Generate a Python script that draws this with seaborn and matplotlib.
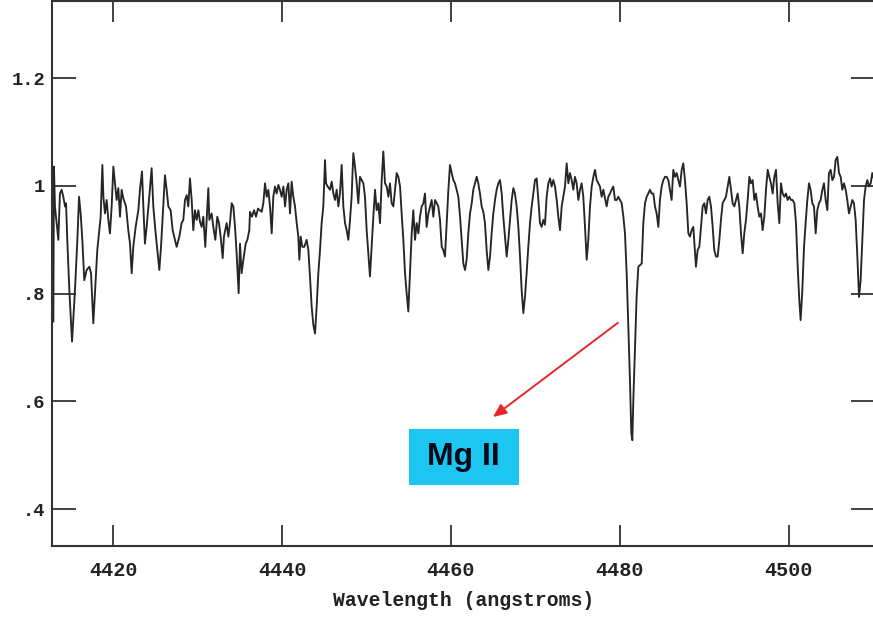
import matplotlib
matplotlib.use("Agg")
import matplotlib.pyplot as plt
import seaborn as sns
import pandas as pd

wavelength = [
    4412.94, 4413.01, 4413.13, 4413.33, 4413.53, 4413.72, 4413.92, 4414.12, 4414.32, 4414.44,
    4414.59, 4414.83, 4415.15, 4415.50, 4415.78, 4415.98, 4416.17, 4416.37, 4416.60, 4416.88,
    4417.20, 4417.40, 4417.67, 4417.95, 4418.14, 4418.38, 4418.54, 4418.74, 4418.86, 4419.05,
    4419.25, 4419.45, 4419.64, 4419.84, 4420.04, 4420.24, 4420.43, 4420.63, 4420.83, 4421.02,
    4421.22, 4421.54, 4421.81, 4422.01, 4422.21, 4422.40, 4422.68, 4423.00, 4423.19, 4423.43,
    4423.59, 4423.78, 4423.98, 4424.26, 4424.57, 4424.77, 4425.01, 4425.24, 4425.48, 4425.68,
    4425.95, 4426.15, 4426.35, 4426.55, 4426.82, 4427.06, 4427.33, 4427.53, 4427.85, 4428.12,
    4428.32, 4428.52, 4428.72, 4428.91, 4429.11, 4429.31, 4429.50, 4429.70, 4429.90, 4430.10,
    4430.29, 4430.49, 4430.69, 4430.92, 4431.08, 4431.28, 4431.40, 4431.67, 4431.87, 4432.11,
    4432.34, 4432.54, 4432.74, 4432.98, 4433.13, 4433.45, 4433.65, 4433.84, 4434.04, 4434.24,
    4434.44, 4434.63, 4434.87, 4435.03, 4435.22, 4435.42, 4435.70, 4435.90, 4436.13, 4436.21,
    4436.45, 4436.69, 4436.92, 4437.16,
    4437.59, 4437.79, 4437.99, 4438.19, 4438.38, 4438.58, 4438.78, 4438.97, 4439.17, 4439.37,
    4439.57, 4439.76, 4439.96, 4440.16, 4440.36, 4440.55, 4440.75, 4440.95, 4441.14, 4441.34,
    4441.54, 4441.74, 4441.93, 4442.05, 4442.21, 4442.41, 4442.64, 4442.92, 4443.12, 4443.31,
    4443.51, 4443.71, 4443.91, 4444.10, 4444.30, 4444.50, 4444.69, 4444.89, 4445.09, 4445.21,
    4445.41, 4445.68, 4445.88, 4446.08, 4446.27, 4446.47, 4446.67, 4446.86, 4447.06, 4447.26,
    4447.46, 4447.65, 4447.85, 4448.05, 4448.24, 4448.44, 4448.64, 4448.84, 4449.03, 4449.23,
    4449.43, 4449.63, 4449.82, 4450.02, 4450.22, 4450.41, 4450.61, 4450.81, 4451.01, 4451.20,
    4451.40, 4451.60, 4451.80, 4451.99, 4452.19, 4452.39, 4452.59, 4452.78, 4452.98, 4453.18,
    4453.37, 4453.57, 4453.77, 4453.97, 4454.16, 4454.36, 4454.56, 4454.75, 4454.95, 4455.15,
    4455.35, 4455.54, 4455.74, 4455.94, 4456.14, 4456.33, 4456.53, 4456.73, 4456.92, 4457.12,
    4457.32, 4457.52, 4457.71, 4457.91, 4458.11, 4458.31, 4458.50, 4458.70, 4458.90, 4459.09,
    4459.29, 4459.49, 4459.69, 4459.88, 4460.08, 4460.28, 4460.47, 4460.67, 4460.87, 4461.07,
    4461.26, 4461.46, 4461.66,
    4461.85, 4462.05, 4462.25, 4462.45, 4462.64, 4462.84, 4463.04, 4463.23, 4463.43, 4463.63,
    4463.83, 4464.02, 4464.22, 4464.42, 4464.62, 4464.81, 4465.01, 4465.21, 4465.40, 4465.60,
    4465.80, 4466.00, 4466.19, 4466.39, 4466.59, 4466.79, 4466.98, 4467.18, 4467.38, 4467.57,
    4467.77, 4467.97, 4468.17, 4468.36, 4468.56, 4468.76, 4468.95, 4469.15, 4469.35, 4469.55,
    4469.74, 4469.94, 4470.14, 4470.34, 4470.53, 4470.73, 4470.93, 4471.12, 4471.32, 4471.52,
    4471.72, 4471.91, 4472.11, 4472.31, 4472.51, 4472.70, 4472.90, 4473.10, 4473.29, 4473.49,
    4473.69, 4473.89, 4474.08, 4474.28, 4474.48, 4474.67, 4474.87, 4475.07, 4475.27, 4475.46,
    4475.66, 4475.86, 4476.06, 4476.25, 4476.45, 4476.65, 4476.85, 4477.04, 4477.24, 4477.44,
    4477.63, 4477.83, 4478.03, 4478.23, 4478.42, 4478.62, 4478.82, 4479.01, 4479.21, 4479.41,
    4479.61, 4479.80, 4480.00, 4480.20, 4480.40, 4480.59, 4480.79, 4480.99, 4481.18, 4481.34,
    4481.46, 4481.58, 4481.78, 4481.97, 4482.17, 4482.37, 4482.57, 4482.76, 4482.96, 4483.16,
    4483.35, 4483.55, 4483.75, 4483.95, 4484.14, 4484.34, 4484.54, 4484.73, 4484.93, 4485.13,
    4485.33, 4485.52, 4485.72,
    4486.11, 4486.31, 4486.51, 4486.71, 4486.90, 4487.10, 4487.30, 4487.49, 4487.69, 4487.89,
    4488.09, 4488.28, 4488.48, 4488.68, 4488.88, 4488.99, 4489.19, 4489.39, 4489.59, 4489.78,
    4489.98, 4490.18, 4490.37, 4490.57, 4490.77, 4490.97, 4491.16, 4491.36, 4491.56, 4491.76,
    4491.95, 4492.15, 4492.35, 4492.54, 4492.74, 4492.94, 4493.14, 4493.33, 4493.53, 4493.73,
    4493.93, 4494.12, 4494.32, 4494.52, 4494.71, 4494.91, 4495.11, 4495.31, 4495.50, 4495.70,
    4495.90, 4496.09, 4496.29, 4496.49, 4496.69, 4496.88, 4497.08, 4497.28, 4497.48, 4497.67,
    4497.87, 4498.07, 4498.26, 4498.46, 4498.66, 4498.86, 4499.05, 4499.25, 4499.45, 4499.65,
    4499.84, 4500.04, 4500.24, 4500.43, 4500.63, 4500.83, 4501.03, 4501.22, 4501.38, 4501.58,
    4501.78, 4501.97, 4502.17, 4502.37, 4502.56, 4502.76, 4502.96, 4503.16, 4503.35, 4503.55,
    4503.75, 4503.95, 4504.14, 4504.34, 4504.54, 4504.73, 4504.93, 4505.13, 4505.33, 4505.52,
    4505.72, 4505.92, 4506.12, 4506.31, 4506.51, 4506.71, 4506.90, 4507.10, 4507.30, 4507.50,
    4507.69, 4507.89, 4508.09, 4508.29, 4508.48, 4508.68, 4508.88, 4509.07, 4509.27, 4509.47,
    4509.67, 4509.86, 4510.30,
]

flux = [
    0.748, 1.036, 0.962, 0.931, 0.900, 0.986, 0.993, 0.980, 0.962, 0.968,
    0.900, 0.807, 0.711, 0.807, 0.900, 0.980, 0.949, 0.900, 0.825, 0.844,
    0.850, 0.838, 0.745, 0.825, 0.881, 0.918, 0.943, 1.039, 0.980, 0.949,
    0.974, 0.937, 0.912, 0.962, 1.036, 1.005, 0.974, 0.996, 0.943, 0.993,
    0.977, 0.962, 0.918, 0.893, 0.838, 0.887, 0.924, 0.955, 0.993, 1.027,
    0.962, 0.893, 0.924, 0.974, 1.033, 0.962, 0.918, 0.881, 0.844, 0.887,
    0.962, 1.020, 0.993, 0.962, 0.955, 0.918, 0.900, 0.887, 0.906, 0.931,
    0.937, 0.974, 0.983, 0.962, 1.014, 0.974, 0.918, 0.955, 0.937, 0.955,
    0.934, 0.924, 0.943, 0.887, 0.937, 0.996, 0.937, 0.949, 0.924, 0.900,
    0.943, 0.931, 0.906, 0.866, 0.906, 0.931, 0.906, 0.931, 0.968, 0.962,
    0.924, 0.875, 0.801, 0.893, 0.838, 0.862, 0.893, 0.900, 0.918, 0.952,
    0.943, 0.955, 0.943, 0.958,
    0.952, 0.968, 1.005, 0.980, 0.993, 0.962, 0.912, 0.980, 0.999, 0.986,
    1.002, 0.993, 0.980, 0.999, 0.962, 0.993, 1.005, 0.949, 1.008, 0.980,
    0.962, 0.931, 0.906, 0.863, 0.906, 0.887, 0.887, 0.900, 0.881, 0.832,
    0.776, 0.742, 0.726, 0.776, 0.838, 0.881, 0.931, 0.962, 1.048, 1.005,
    0.999, 0.993, 1.008, 0.986, 0.974, 0.993, 0.962, 0.986, 1.039, 0.962,
    0.931, 0.918, 0.900, 0.937, 0.980, 1.061, 1.036, 1.005, 0.968, 1.017,
    1.011, 1.005, 0.980, 0.918, 0.875, 0.832, 0.887, 0.943, 0.993, 0.955,
    0.968, 0.931, 1.011, 1.064, 1.005, 0.999, 0.980, 1.005, 0.968, 0.962,
    0.993, 1.024, 1.017, 0.999, 0.949, 0.900, 0.838, 0.801, 0.767, 0.838,
    0.912, 0.955, 0.900, 0.931, 0.912, 0.943, 0.962, 0.968, 0.986, 0.924,
    0.949, 0.962, 0.974, 0.943, 0.974, 0.968, 0.962, 0.937, 0.887, 0.881,
    0.869, 0.931, 0.993, 1.039, 1.024, 1.011, 1.005, 0.993, 0.980, 0.943,
    0.900, 0.856, 0.844,
    0.863, 0.912, 0.949, 0.968, 0.993, 1.005, 1.017, 1.005, 0.986, 0.962,
    0.952, 0.931, 0.881, 0.844, 0.869, 0.912, 0.949, 0.974, 0.993, 1.005,
    1.011, 0.986, 0.943, 0.906, 0.869, 0.900, 0.937, 0.974, 0.996, 0.986,
    0.962, 0.924, 0.869, 0.807, 0.764, 0.795, 0.838, 0.887, 0.931, 0.962,
    0.986, 1.011, 1.014, 0.974, 0.931, 0.924, 0.937, 0.928, 0.980, 1.005,
    1.014, 0.999, 1.011, 0.999, 0.974, 0.943, 0.918, 0.962, 0.980, 0.999,
    1.042, 1.005, 1.024, 1.011, 0.993, 1.017, 1.005, 0.974, 0.993, 1.005,
    0.980, 0.924, 0.863, 0.900, 0.962, 0.999, 1.017, 1.030, 1.011, 1.005,
    0.999, 0.980, 0.993, 0.977, 0.962, 0.980, 0.986, 0.993, 0.999, 0.974,
    0.974, 0.980, 0.974, 0.968, 0.943, 0.912, 0.838, 0.739, 0.640, 0.541,
    0.528, 0.603, 0.702, 0.795, 0.850, 0.853, 0.856, 0.931, 0.968, 0.980,
    0.986, 0.993, 0.986, 0.986, 0.962, 0.949, 0.924, 0.974, 0.999, 1.011,
    1.017, 1.017, 1.011,
    0.974, 1.030, 1.017, 1.024, 1.011, 0.999, 1.030, 1.042, 1.011, 0.968,
    0.912, 0.906, 0.918, 0.924, 0.875, 0.850, 0.881, 0.887, 0.924, 0.962,
    0.968, 0.949, 0.974, 0.980, 0.962, 0.924, 0.881, 0.869, 0.869, 0.900,
    0.937, 0.968, 0.974, 0.980, 0.999, 1.017, 0.993, 0.968, 0.962, 0.974,
    0.986, 0.962, 0.912, 0.875, 0.912, 0.937, 0.974, 1.017, 1.005, 1.011,
    0.974, 0.986, 0.962, 0.943, 0.949, 0.918, 0.943, 0.993, 1.030, 1.017,
    1.005, 0.986, 1.017, 1.030, 0.968, 0.931, 1.005, 0.986, 0.980, 0.986,
    0.974, 0.980, 0.974, 0.974, 0.968, 0.931, 0.850, 0.788, 0.751, 0.807,
    0.887, 0.931, 0.974, 1.005, 0.993, 0.968, 0.962, 0.912, 0.955, 0.968,
    0.974, 0.993, 1.005, 0.974, 0.955, 1.024, 1.030, 1.011, 1.017, 1.048,
    1.054, 1.024, 1.017, 0.993, 1.005, 0.993, 0.974, 0.949, 0.962, 0.974,
    0.968, 0.937, 0.869, 0.794, 0.825, 0.900, 0.974, 0.999, 1.011, 0.999,
    1.005, 1.024, 1.000,
]

x_ticks = [4420, 4440, 4460, 4480, 4500]
x_tick_labels = ["4420", "4440", "4460", "4480", "4500"]
y_ticks = [0.4, 0.6, 0.8, 1.0, 1.2]
y_tick_labels = [".4", ".6", ".8", "1", "1.2"]
x_label = "Wavelength (angstroms)"
annotation_text = "Mg II"

df = pd.DataFrame({"wavelength": wavelength, "flux": flux})

sns.set_style("ticks")
plt.rcParams["font.family"] = ["Liberation Mono", "DejaVu Sans Mono"]

W, H = 873, 619
fig = plt.figure(figsize=(W / 100, H / 100), dpi=100)
ax = fig.add_axes([52 / W, (H - 546) / H, 823 / W, 545 / H])

sns.lineplot(data=df, x="wavelength", y="flux", ax=ax, sort=False,
             estimator=None, color="#262626", linewidth=1.35)

ax.set_xlim(4412.78, 4510.18)
ax.set_ylim(0.3315, 1.3435)

ax.set_xticks(x_ticks)
ax.set_xticklabels(x_tick_labels)
ax.set_yticks(y_ticks)
ax.set_yticklabels(y_tick_labels)

for s in ax.spines.values():
    s.set_color("#333333")
    s.set_linewidth(1.5)

ax.tick_params(axis="y", direction="in", length=17, width=1.3, color="#333333",
               left=True, right=True, pad=5, labelsize=13.5, labelcolor="#222222")
ax.tick_params(axis="x", direction="in", length=15, width=1.3, color="#333333",
               top=True, bottom=True, pad=11, labelsize=14.5, labelcolor="#222222")
for lab in ax.get_xticklabels() + ax.get_yticklabels():
    lab.set_fontweight("bold")

ax.set_xlabel(x_label, fontsize=14.2, fontweight="bold", color="#222222", labelpad=8)
ax.set_ylabel("")

# Mg II label box and arrow
from matplotlib.patches import Rectangle
ax.add_patch(Rectangle((4455.0, 0.445), 13.0, 0.104, facecolor="#1cc6f0",
                       edgecolor="none", zorder=3))
ax.text(4461.5, 0.497, annotation_text, ha="center", va="center", fontsize=23,
        fontweight="bold", family=["Liberation Sans", "DejaVu Sans"],
        color="#0a0a1a", zorder=4)
ax.annotate("", xy=(4464.97, 0.571), xytext=(4479.76, 0.746),
            arrowprops=dict(arrowstyle="-|>,head_length=0.8,head_width=0.35",
                            color="#e8262a", lw=1.4, shrinkA=0, shrinkB=0),
            zorder=4)

fig.savefig("out.png", dpi=100)
